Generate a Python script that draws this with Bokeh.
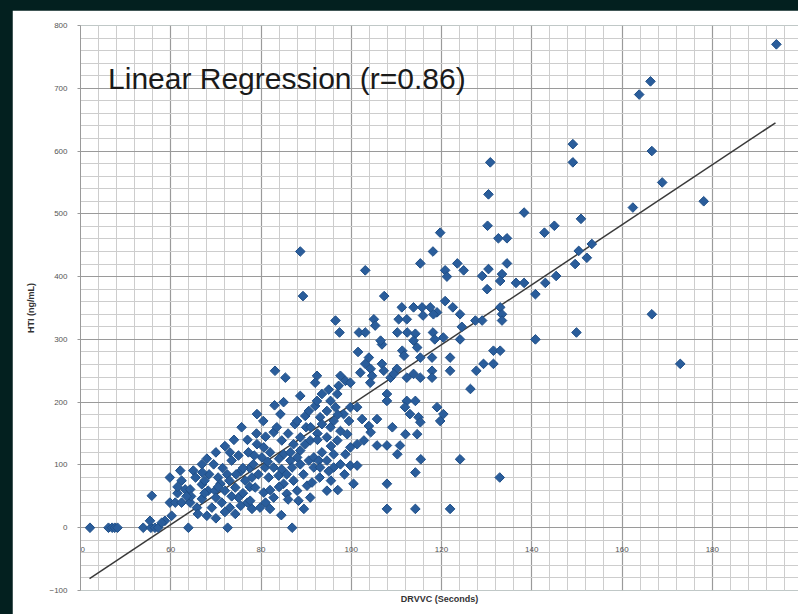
import math
from bokeh.plotting import figure
from bokeh.layouts import column
from bokeh.models import SingleIntervalTicker, Label, Title, Range1d
from bokeh.embed import file_html
from bokeh.resources import INLINE

# ---- data (DRVVC seconds vs HTI ng/mL) ----
# low range / left tail
low_x = [42.1, 46.2, 47.0, 47.6, 48.2, 53.9, 55.6, 56.5, 57.2, 63.9, 72.6, 86.9,
         75.7, 73.1, 77.2, 69.5, 66.9, 65.0, 62.1, 59.8, 62.4, 63.2, 64.3, 66.9, 68.3, 69.8, 72.0, 74.3, 76.5, 73.5,
         55.8, 59.8, 61.0, 62.4, 64.3, 65.8, 66.9, 69.1, 71.3, 73.1, 75.0, 68.0, 74.3, 60.2, 58.7, 55.4, 58.0,
         70.5, 72.5, 75.5, 77.5, 71.0, 76.0, 77.0, 70.0,
         67.5, 70.5, 73.0, 74.5, 76.0, 78.0, 77.5, 75.5, 78.0, 72.0, 70.0, 66.0, 64.5, 61.5, 68.5, 71.5,
         61.5, 63.5, 65.5, 67.0, 68.0, 70.0, 72.0, 74.0, 67.5, 73.5, 75.0]
low_y = [0, 0, 0, 0, 0, 0, 0, 0, 0, 0, 0, 0,
         160, 120, 120, 101, 101, 91, 91, 80, 75, 61, 61, 69, 59, 59, 59, 64, 75, 107,
         51, 40, 40, 40, 40, 32, 46, 32, 40, 32, 48, 19, 22, 19, 11, 11, 8,
         80, 85, 90, 95, 70, 55, 40, 48,
         55, 65, 75, 85, 95, 80, 65, 35, 30, 25, 15, 22, 50, 55, 85, 95,
         65, 50, 80, 88, 110, 120, 130, 140, 75, 50, 115]

# dense core
core_x = [79.1, 80.6, 82.0, 80.2, 78.3, 80.9, 82.8, 84.6, 79.4, 81.7, 83.9, 85.7, 86.5, 88.0, 88.7, 89.8,
          90.9, 88.7, 87.2, 84.6, 85.0, 86.9, 88.7, 90.6, 91.7, 91.7, 89.4, 87.2, 85.0, 88.0, 90.2, 91.3,
          78.7, 80.6, 82.8, 85.7, 88.3, 90.9, 77.6, 79.8, 82.0,
          88.7, 89.8, 90.6, 92.0, 92.4, 93.5, 95.4, 96.9, 96.5, 94.6, 93.1, 96.1, 98.3, 99.8, 101.3, 97.6,
          95.4, 94.6, 96.9, 99.1, 99.8, 101.3, 102.8, 98.7, 96.1, 93.5, 92.8, 94.6, 96.1, 97.6, 99.8, 101.3, 93.1,
          79.1, 84.3, 82.8, 83.1, 85.4, 92.4, 92.0, 97.6, 98.7, 97.2, 99.8, 100.5, 94.6,
          84.5, 89.5, 98.5, 95.5, 81.0, 83.5, 86.0, 87.5, 90.0, 92.5,
          77.0, 79.0, 80.5, 83.0, 85.0, 81.5, 84.0, 86.5, 78.5, 82.0, 84.0, 86.0, 81.0,
          88.0, 91.0, 93.5, 95.0, 97.0, 99.5, 92.5, 95.5, 93.0, 95.0, 97.0]
core_y = [133, 128, 120, 112, 101, 96, 96, 93, 85, 80, 83, 85, 107, 112, 123, 133,
          139, 144, 133, 139, 117, 96, 101, 107, 112, 96, 85, 75, 70, 59, 67, 72,
          64, 56, 48, 54, 43, 48, 43, 32, 30,
          210, 178, 186, 194, 202, 213, 202, 213, 192, 186, 176, 170, 181, 192, 192, 154,
          160, 144, 139, 149, 128, 133, 139, 117, 117, 120, 107, 107, 96, 101, 99, 99, 96,
          181, 181, 152, 250, 239, 242, 231, 242, 234, 226, 231, 70, 59,
          20, 30, 85, 75, 145, 160, 150, 165, 160, 150,
          140, 150, 170, 195, 200, 105, 110, 120, 115, 60, 65, 45, 40,
          170, 160, 165, 220, 180, 170, 140, 130, 80, 90, 60]

# middle range
mid_x = [88.7, 89.3, 103.1, 107.3, 96.5, 97.4, 101.7, 103.1, 105.0, 105.3, 106.8, 101.5, 106.5, 103.9,
         103.1, 106.8, 107.2, 104.3, 102.0, 104.6, 104.2, 102.4, 103.9, 105.7, 104.3, 109.1, 105.7, 107.9,
         110.2, 107.9, 107.9, 107.9, 107.9, 108.7, 110.1, 109.4]
mid_y = [440, 369, 410, 369, 330, 311, 311, 311, 332, 322, 292, 280, 298, 271,
         261, 261, 250, 253, 247, 242, 231, 173, 162, 173, 152, 160, 131, 131,
         117, 70, 30, 213, 202, 239, 253, 245]

# upper-middle range
upper_x = [111.2, 113.8, 115.7, 117.5, 119.0, 120.8, 122.5, 124.1, 110.5, 112.3, 115.9, 118.2, 110.2, 112.4,
           114.2, 118.1, 120.4, 118.5, 124.5, 124.1, 111.3, 111.7, 114.6, 113.8, 117.9, 115.3, 121.9, 121.9,
           117.9, 117.9, 112.3, 113.8, 115.3,
           115.3, 118.1, 119.7, 120.8, 121.2, 123.5, 124.9,
           112.0, 114.6, 110.8, 115.4, 114.2, 114.2, 112.3, 114.2, 111.9, 113.0, 114.9, 115.3, 119.0, 120.4,
           119.7, 124.1, 121.9]
upper_y = [351, 351, 351, 351, 343, 361, 351, 340, 332, 332, 338, 340, 311, 311,
           309, 311, 303, 300, 320, 300, 282, 274, 287, 298, 271, 271, 271, 250,
           250, 239, 239, 245, 239,
           421, 440, 470, 410, 400, 421, 410,
           149, 149, 131, 109, 88, 30, 202, 202, 192, 181, 176, 168, 192, 181,
           170, 109, 30]

# high range
high_x = [130.8, 130.4, 130.2, 132.6, 134.5, 134.5, 130.4, 129.0, 133.4, 133.0, 130.1, 136.5, 138.3, 140.8,
          143.0, 145.4, 138.3, 142.8, 145.0, 133.0, 133.4, 133.4, 127.5, 129.0, 131.5, 133.0, 129.3, 131.5,
          127.7, 126.4, 140.8, 132.9,
          149.1, 149.1, 150.9, 150.4, 153.3, 152.2, 149.6, 149.9, 194.2, 166.3, 163.8, 166.6, 168.9, 162.4,
          178.1, 166.6, 172.9]
high_y = [582, 531, 481, 461, 461, 421, 412, 401, 404, 393, 380, 390, 390, 372,
          390, 401, 502, 470, 481, 351, 340, 330, 330, 330, 282, 282, 261, 261,
          250, 221, 300, 80,
          611, 582, 492, 441, 452, 430, 420, 311, 770, 711, 690, 600, 550, 510,
          520, 340, 261]

# regression line end points
reg_x = [42.0, 194.0]
reg_y = [-81.0, 645.0]

title_text = "Linear Regression (r=0.86)"
x_title = "DRVVC (Seconds)"
y_title = "HTI (ng/mL)"

drvvc = low_x + core_x + mid_x + upper_x + high_x
hti = low_y + core_y + mid_y + upper_y + high_y

p = figure(width=786, height=604, output_backend="svg", toolbar_location=None,
           x_range=Range1d(40, 199.1), y_range=Range1d(-100, 800),
           min_border_left=68, min_border_right=0, min_border_top=15, min_border_bottom=24)
p.margin = (10, 0, 0, 12)
p.outline_line_color = None
p.background_fill_color = "white"
p.border_fill_color = "white"

xt = SingleIntervalTicker(interval=20, num_minor_ticks=5)
yt = SingleIntervalTicker(interval=100, num_minor_ticks=5)
p.xaxis.ticker = xt
p.yaxis.ticker = yt
p.xgrid.ticker = xt
p.ygrid.ticker = yt
for g in (p.xgrid, p.ygrid):
    g.grid_line_color = "#9a9a9a"
    g.grid_line_width = 1.2
    g.minor_grid_line_color = "#cdcdcd"
    g.minor_grid_line_width = 1

# x axis drawn at y = 0 like Excel
xa = p.xaxis[0]
xa.fixed_location = 0
xa.axis_line_color = None
xa.major_tick_line_color = None
xa.minor_tick_line_color = None
xa.major_label_standoff = 13
xa.major_label_text_font = "Liberation Sans"
xa.major_label_text_font_size = "8px"
xa.major_label_text_color = "#555555"

ya = p.yaxis[0]
ya.axis_line_color = "#9a9a9a"
ya.major_tick_line_color = "#9a9a9a"
ya.major_tick_out = 3
ya.major_tick_in = 0
ya.minor_tick_line_color = None
ya.major_label_standoff = 9
ya.major_label_text_font = "Liberation Sans"
ya.major_label_text_font_size = "8px"
ya.major_label_text_color = "#555555"
ya.axis_label = y_title
ya.axis_label_text_font = "Liberation Sans"
ya.axis_label_text_font_style = "bold"
ya.axis_label_text_font_size = "9px"
ya.axis_label_text_color = "#333333"
ya.axis_label_standoff = 10

p.add_layout(Title(text=x_title, align="center", text_font="Liberation Sans",
                   text_font_style="bold", text_font_size="9px", text_color="#333333",
                   standoff=2), "below")

p.line(reg_x, reg_y, line_color="#3a3a3a", line_width=1.5)
p.scatter(drvvc, hti, marker="square", size=6.8, angle=math.pi / 4,
          fill_color="#2a5d9b", line_color="#1f4f88", line_width=1)

p.add_layout(Label(x=46.1, y=716, text=title_text, text_font="Liberation Sans",
                   text_font_size="30px", text_color="#1a1a1a", text_baseline="alphabetic"))

page = column(p, styles={"background-color": "#03201f"})

open("out.html", "w").write(file_html(page, INLINE))
